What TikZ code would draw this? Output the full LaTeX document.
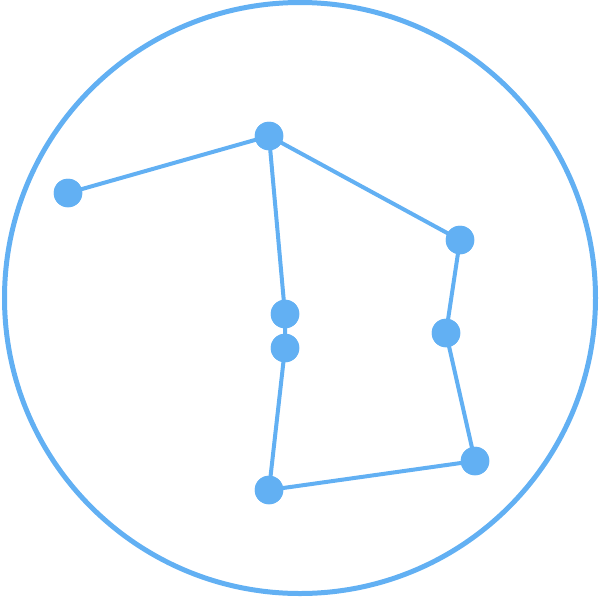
\documentclass[tikz,border=0pt]{standalone}
\definecolor{sky}{RGB}{98,176,243}
\begin{document}
\begin{tikzpicture}[x=1pt,y=-1pt,
  dot/.style={circle,fill=sky,inner sep=0pt,minimum size=28.5pt},
  edge/.style={draw=sky,line width=4pt}]
\useasboundingbox (0,0) rectangle (600,598);
\draw[sky,line width=5pt] (300,298) circle (295.5);
\node[dot] (a) at (68,193) {};
\node[dot] (b) at (269,136) {};
\node[dot] (c) at (460,240) {};
\node[dot] (d) at (285,314) {};
\node[dot] (e) at (285,348) {};
\node[dot] (f) at (446,333) {};
\node[dot] (g) at (475,461) {};
\node[dot] (h) at (269,490) {};
\begin{scope}[on background layer/.try]
\end{scope}
\path[edge] (a.center) -- (b.center) -- (c.center) -- (f.center) -- (g.center) -- (h.center) -- (e.center) -- (d.center) -- (b.center);
\foreach \n/\x/\y in {a/68/193,b/269/136,c/460/240,d/285/314,e/285/348,f/446/333,g/475/461,h/269/490}
  \fill[sky] (\x,\y) circle (14.25);
\end{tikzpicture}
\end{document}
